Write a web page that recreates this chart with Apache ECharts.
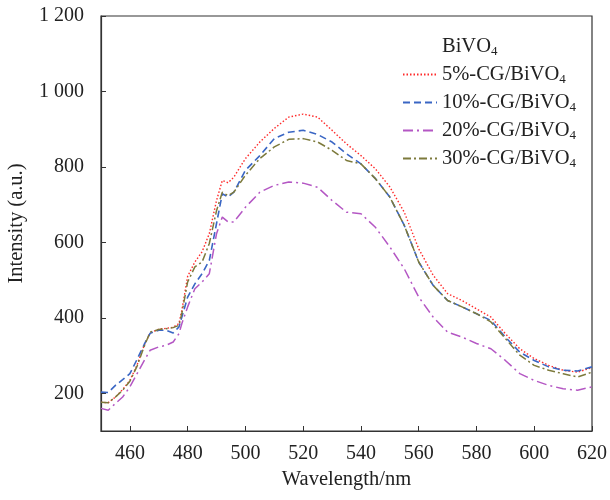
<!DOCTYPE html>
<html><head><meta charset="utf-8">
<script src="https://cdn.jsdelivr.net/npm/echarts@6/dist/echarts.min.js"></script>
<style>html,body{margin:0;padding:0;background:#fff}#c{width:610px;height:500px}</style>
</head><body><div id="c"></div>
<script>
const wavelengths = [450,452.5,455,457.5,460,462.5,465,467,470,472.5,475,477,478,480,482.5,485,487.5,490,492,494,496,500,505,510,515,520,525,530,535,540,545,550,555,560,565,570,575,580,585,590,595,600,605,610,615,620];
const cg5  = [176,175,190,210,234,275,328,360,370,372,375,385,420,510,548,575,623,711,764,758,773,822,866,902,932,940,932,897,861,830,795,747,680,583,513,464,446,424,402,358,318,292,274,261,256,268];
const cg10 = [203,202,221,236,252,290,330,359,367,367,360,376,402,455,490,517,552,650,729,720,733,791,830,875,892,897,886,866,835,808,769,720,645,548,486,446,429,411,393,349,309,287,270,261,259,270];
const cg20 = [160,155,173,190,217,252,287,314,323,327,336,358,385,429,477,495,517,623,667,654,654,693,733,751,760,757,746,711,680,676,640,588,530,455,402,362,349,332,318,287,252,234,221,212,208,217];
const cg30 = [176,175,190,208,232,272,325,362,369,371,374,380,412,495,535,548,597,684,733,724,733,778,822,853,873,875,866,844,817,808,769,720,645,548,486,446,429,411,389,345,301,274,261,252,243,256];
const seriesNames = ['BiVO4','5%-CG/BiVO4','10%-CG/BiVO4','20%-CG/BiVO4','30%-CG/BiVO4'];
const xTicks = [460,480,500,520,540,560,580,600,620];
const yTicks = [200,400,600,800,1000,1200];

const pairs = arr => wavelengths.map((w,i)=>[w,arr[i]]);
const font = 'Liberation Serif, Times New Roman, serif';
const fmtY = v => { const s = String(v); return s.length>3 ? s.slice(0,s.length-3)+' '+s.slice(-3) : s; };

const chart = echarts.init(document.getElementById('c'), null, {renderer:'canvas'});
chart.setOption({
  animation:false,
  backgroundColor:'#fff',
  grid:{left:101,right:18,top:16,bottom:69,show:true,borderColor:'#333',borderWidth:1.2,outerBoundsMode:'none',containLabel:false},
  legend:{
    orient:'vertical', left:397, top:30, padding:5, itemWidth:34, itemHeight:14, itemGap:5,
    itemStyle:{opacity:0},
    data: seriesNames,
    formatter: n => '{a|'+n.slice(0,-1)+'}{s|'+n.slice(-1)+'}',
    textStyle:{fontFamily:font, fontSize:20.5, color:'#222',
      rich:{a:{fontFamily:font,fontSize:20.5,color:'#222',lineHeight:24},
            s:{fontFamily:font,fontSize:13,color:'#222',padding:[10,0,0,0],lineHeight:24}}}
  },
  xAxis:{
    type:'value', min:450, max:620,
    name:'Wavelength/nm', nameLocation:'middle', nameGap:37,
    nameTextStyle:{fontFamily:font,fontSize:20.5,color:'#222'},
    axisLine:{show:true,lineStyle:{color:'#333',width:1.2}},
    axisTick:{show:true,inside:true,length:5,customValues:xTicks,lineStyle:{color:'#333'}},
    axisLabel:{customValues:xTicks,fontFamily:font,fontSize:20,color:'#222',margin:13},
    splitLine:{show:false}
  },
  yAxis:{
    type:'value', min:100, max:1200,
    name:'Intensity (a.u.)', nameLocation:'middle', nameGap:74,
    nameTextStyle:{fontFamily:font,fontSize:20.5,color:'#222'},
    axisLine:{show:true,lineStyle:{color:'#333',width:1.2}},
    axisTick:{show:true,inside:true,length:5,customValues:yTicks,lineStyle:{color:'#333'}},
    axisLabel:{customValues:yTicks,fontFamily:font,fontSize:20,color:'#222',margin:17,formatter:fmtY},
    splitLine:{show:false}
  },
  series:[
    {name:seriesNames[0],type:'line',data:[],symbol:'none',itemStyle:{color:'rgba(0,0,0,0)'},lineStyle:{color:'rgba(0,0,0,0)',width:0}},
    {name:seriesNames[1],type:'line',data:pairs(cg5),symbol:'none',itemStyle:{color:'#ff2a2a'},lineStyle:{color:'#ff2a2a',width:1.4,type:[1.5,2]}},
    {name:seriesNames[2],type:'line',data:pairs(cg10),symbol:'none',itemStyle:{color:'#3a66c4'},lineStyle:{color:'#3a66c4',width:1.6,type:[7,4]}},
    {name:seriesNames[3],type:'line',data:pairs(cg20),symbol:'none',itemStyle:{color:'#b457c4'},lineStyle:{color:'#b457c4',width:1.5,type:[10,4,2,4]}},
    {name:seriesNames[4],type:'line',data:pairs(cg30),symbol:'none',itemStyle:{color:'#7d7a3c'},lineStyle:{color:'#7d7a3c',width:1.5,type:[8,3,2,3]}}
  ]
});
</script></body></html>
